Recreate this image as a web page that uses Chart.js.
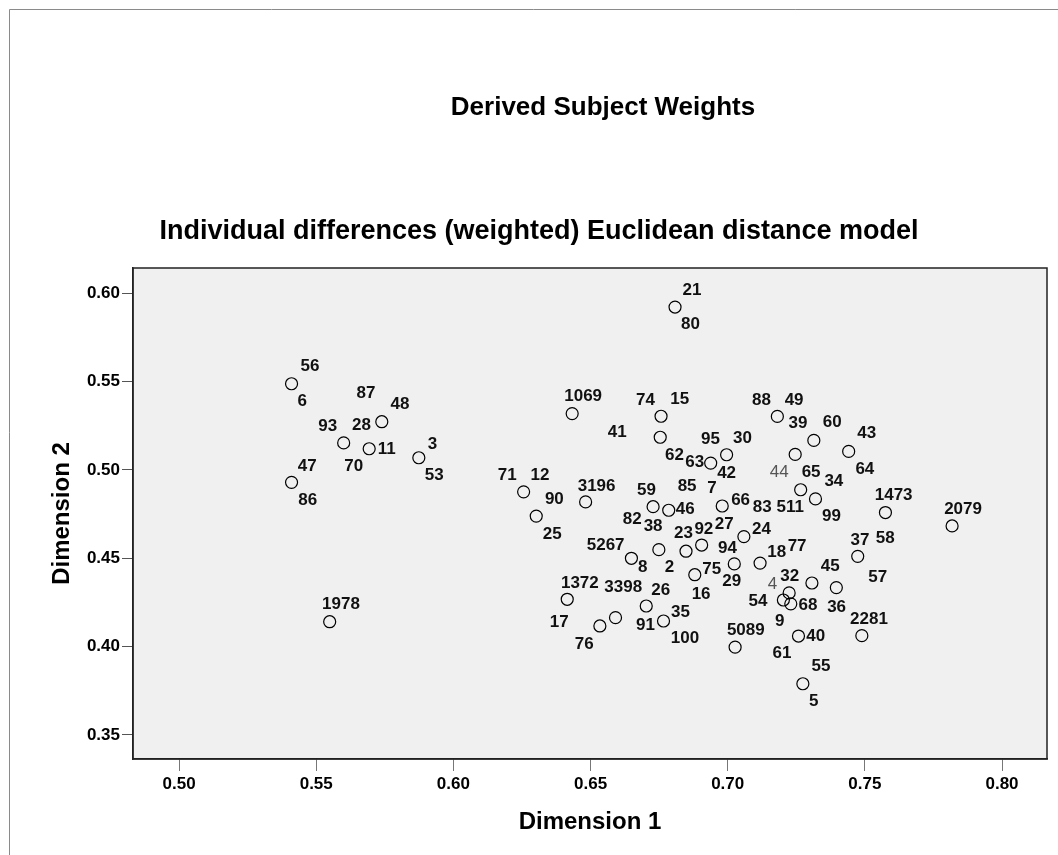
<!DOCTYPE html>
<html>
<head>
<meta charset="utf-8">
<title>Derived Subject Weights</title>
<script src="https://cdn.jsdelivr.net/npm/chart.js@4.4.0/dist/chart.umd.min.js"></script>
<style>
  html, body { margin: 0; padding: 0; background: #fff; }
  #wrap { width: 1058px; height: 855px; position: relative; }
</style>
</head>
<body>
<div id="wrap"><canvas id="weights" width="1058" height="855"></canvas></div>
<script>
// subject weights on the two dimensions (one circle per distinct position)
const dim1 = [0.5410, 0.5739, 0.5600, 0.5693, 0.5874, 0.5410, 0.5549, 0.6808, 0.6433, 0.6757,
              0.6754, 0.6996, 0.6938, 0.7181, 0.7314, 0.7246, 0.7441, 0.7266, 0.7320, 0.7575,
              0.7818, 0.6256, 0.6482, 0.6302, 0.6728, 0.6785, 0.6980, 0.6749, 0.6649, 0.6848,
              0.6905, 0.7059, 0.7024, 0.7118, 0.6880, 0.6415, 0.6591, 0.6534, 0.6703, 0.6766,
              0.7027, 0.7258, 0.7489, 0.7274, 0.7474, 0.7307, 0.7396, 0.7224, 0.7203, 0.7230];
const dim2 = [0.5488, 0.5273, 0.5153, 0.5120, 0.5069, 0.4930, 0.4141, 0.5922, 0.5319, 0.5304,
              0.5185, 0.5086, 0.5039, 0.5303, 0.5167, 0.5088, 0.5105, 0.4888, 0.4836, 0.4759,
              0.4683, 0.4876, 0.4819, 0.4739, 0.4792, 0.4772, 0.4796, 0.4549, 0.4500, 0.4540,
              0.4575, 0.4623, 0.4468, 0.4473, 0.4407, 0.4268, 0.4164, 0.4117, 0.4230, 0.4145,
              0.3997, 0.4060, 0.4062, 0.3790, 0.4511, 0.4360, 0.4334, 0.4304, 0.4264, 0.4242];

// subject id labels and where they sit (in dimension units)
const caseIds = ['56', '6', '87', '48', '93', '28', '70', '11', '3', '53', '47', '86', '1978',
                 '21', '80', '1069', '74', '15', '41', '95', '30', '62', '63', '42', '88', '49',
                 '39', '60', '44', '43', '64', '65', '34', '99', '1473', '2079', '71', '12', '90',
                 '25', '3196', '59', '85', '7', '46', '66', '83', '511', '82', '38', '5267', '8',
                 '23', '92', '2', '27', '24', '94', '29', '18', '77', '75', '16', '1372', '17',
                 '3398', '76', '26', '91', '35', '100', '5089', '37', '58', '45', '57', '36', '4',
                 '32', '54', '68', '9', '40', '61', '2281', '55', '5'];
const idX = [0.5477, 0.5449, 0.5681, 0.5805, 0.5542, 0.5665, 0.5637, 0.5757, 0.5924, 0.5930, 0.5467, 0.5469, 0.5590,
             0.6870, 0.6864, 0.6473, 0.6700, 0.6825, 0.6597, 0.6937, 0.7054, 0.6806, 0.6880, 0.6996, 0.7123, 0.7242,
             0.7256, 0.7381, 0.7188, 0.7507, 0.7500, 0.7304, 0.7387, 0.7378, 0.7605, 0.7858, 0.6196, 0.6316, 0.6368,
             0.6360, 0.6522, 0.6704, 0.6852, 0.6943, 0.6845, 0.7047, 0.7126, 0.7228, 0.6652, 0.6728, 0.6555, 0.6690,
             0.6839, 0.6913, 0.6788, 0.6987, 0.7123, 0.6999, 0.7015, 0.7179, 0.7253, 0.6942, 0.6903, 0.6461, 0.6386,
             0.6619, 0.6477, 0.6756, 0.6700, 0.6828, 0.6844, 0.7066, 0.7482, 0.7574, 0.7374, 0.7547, 0.7397, 0.7163,
             0.7226, 0.7110, 0.7293, 0.7190, 0.7321, 0.7198, 0.7515, 0.7340, 0.7314];
const idY = [0.5585, 0.5386, 0.5434, 0.5372, 0.5245, 0.5253, 0.5018, 0.5115, 0.5147, 0.4972, 0.5022, 0.4830, 0.4240,
             0.6019, 0.5825, 0.5415, 0.5392, 0.5402, 0.5211, 0.5175, 0.5179, 0.5085, 0.5045, 0.4981, 0.5396, 0.5395,
             0.5262, 0.5268, 0.4987, 0.5205, 0.5004, 0.4987, 0.4934, 0.4735, 0.4854, 0.4779, 0.4968, 0.4968, 0.4836,
             0.4636, 0.4909, 0.4887, 0.4905, 0.4896, 0.4777, 0.4826, 0.4788, 0.4788, 0.4721, 0.4679, 0.4575, 0.4449,
             0.4642, 0.4664, 0.4449, 0.4692, 0.4664, 0.4558, 0.4368, 0.4532, 0.4570, 0.4438, 0.4296, 0.4359, 0.4135,
             0.4336, 0.4013, 0.4319, 0.4122, 0.4192, 0.4047, 0.4094, 0.4602, 0.4612, 0.4456, 0.4390, 0.4223, 0.4351,
             0.4399, 0.4257, 0.4232, 0.4145, 0.4056, 0.3962, 0.4156, 0.3886, 0.3688];

const dim1Ticks = [0.50, 0.55, 0.60, 0.65, 0.70, 0.75, 0.80];
const dim2Ticks = [0.35, 0.40, 0.45, 0.50, 0.55, 0.60];

const FONT = "'Liberation Sans', Arial, Helvetica, sans-serif";
const faintIds = new Set(['44', '4']);

const points = dim1.map((x, i) => ({ x: x, y: dim2[i] }));

// grey frame, plot background and box
const framePlugin = {
  id: 'frame',
  beforeDraw(chart) {
    const { ctx, chartArea: a } = chart;
    ctx.save();
    ctx.fillStyle = '#f0f0f0';
    ctx.fillRect(a.left, a.top, a.right - a.left, a.bottom - a.top);
    ctx.strokeStyle = '#8a8a8a';
    ctx.lineWidth = 1;
    ctx.beginPath();
    ctx.moveTo(9.5, 855);
    ctx.lineTo(9.5, 9.5);
    ctx.lineTo(1058, 9.5);
    ctx.stroke();
    ctx.restore();
  },
  afterDraw(chart) {
    const { ctx, chartArea: a } = chart;
    ctx.save();
    ctx.strokeStyle = '#222';
    ctx.lineWidth = 1.5;
    ctx.strokeRect(a.left, a.top, a.right - a.left, a.bottom - a.top);
    ctx.restore();
  }
};

// the two headings above the plot
const headingPlugin = {
  id: 'headings',
  afterDraw(chart) {
    const { ctx } = chart;
    ctx.save();
    ctx.fillStyle = '#000';
    ctx.textAlign = 'center';
    ctx.textBaseline = 'middle';
    ctx.font = 'bold 26px ' + FONT;
    ctx.fillText('Derived Subject Weights', 603, 108);
    ctx.font = 'bold 27px ' + FONT;
    ctx.fillText('Individual differences (weighted) Euclidean distance model', 539, 232);
    ctx.restore();
  }
};

// subject numbers next to the circles
const idPlugin = {
  id: 'caseIds',
  afterDatasetsDraw(chart) {
    const { ctx, scales: { x, y } } = chart;
    ctx.save();
    ctx.textAlign = 'center';
    ctx.textBaseline = 'middle';
    caseIds.forEach((id, i) => {
      if (faintIds.has(id)) {
        ctx.font = '17px ' + FONT;
        ctx.fillStyle = '#555';
      } else {
        ctx.font = 'bold 17px ' + FONT;
        ctx.fillStyle = '#111';
      }
      ctx.fillText(id, x.getPixelForValue(idX[i]), y.getPixelForValue(idY[i]));
    });
    ctx.restore();
  }
};

new Chart(document.getElementById('weights'), {
  type: 'scatter',
  data: {
    datasets: [{
      data: points,
      pointStyle: 'circle',
      pointRadius: 6,
      pointHoverRadius: 6,
      borderWidth: 1.2,
      borderColor: '#000',
      backgroundColor: 'rgba(0,0,0,0)'
    }]
  },
  options: {
    responsive: false,
    animation: false,
    devicePixelRatio: 1,
    events: [],
    layout: { padding: { top: 268, right: 11, bottom: 0, left: 0 } },
    plugins: { legend: { display: false }, tooltip: { enabled: false } },
    scales: {
      x: {
        type: 'linear',
        min: 0.4832,
        max: 0.8164,
        afterFit: s => { s.height = 96; },
        afterBuildTicks: s => { s.ticks = dim1Ticks.map(v => ({ value: v })); },
        grid: { drawOnChartArea: false, drawTicks: true, tickLength: 12, color: '#777', lineWidth: 1 },
        border: { display: true, color: '#222', width: 1.5 },
        ticks: {
          color: '#000',
          padding: 3,
          maxRotation: 0,
          font: { family: FONT, size: 17, weight: 'bold' },
          callback: v => v.toFixed(2)
        },
        title: {
          display: true,
          text: 'Dimension 1',
          color: '#000',
          font: { family: FONT, size: 24, weight: 'bold' },
          padding: { top: 0, bottom: 18 }
        }
      },
      y: {
        type: 'linear',
        min: 0.3364,
        max: 0.6143,
        afterFit: s => { s.width = 133; },
        afterBuildTicks: s => { s.ticks = dim2Ticks.map(v => ({ value: v })); },
        grid: { drawOnChartArea: false, drawTicks: true, tickLength: 11, color: '#555', lineWidth: 1 },
        border: { display: true, color: '#222', width: 1.5 },
        ticks: {
          color: '#000',
          padding: 2,
          font: { family: FONT, size: 17, weight: 'bold' },
          callback: v => v.toFixed(2)
        },
        title: {
          display: true,
          text: 'Dimension 2',
          color: '#000',
          font: { family: FONT, size: 24, weight: 'bold' },
          padding: { top: 48, bottom: 0 }
        }
      }
    }
  },
  plugins: [framePlugin, headingPlugin, idPlugin]
});
</script>
</body>
</html>
